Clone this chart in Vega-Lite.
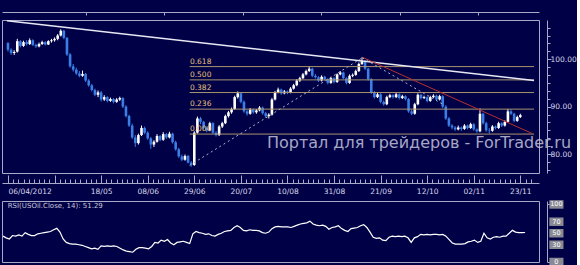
{
"$schema": "https://vega.github.io/schema/vega-lite/v6.json",
"background": "#000046",
"padding": {"left": 0, "top": 11, "right": 0, "bottom": 0},
"spacing": 0,
"config": {
 "view": {"stroke": "#a8a8c8", "strokeWidth": 1},
 "axis": {"domainColor": "#a8a8c8", "tickColor": "#a8a8c8", "labelColor": "#d8d8e8", "labelFont": "DejaVu Sans", "labelFontSize": 7.5, "grid": false, "title": null, "labelOverlap": false}
},
"datasets": {
 "cd": [
{"o":103.4,"h":103.6,"l":101.6,"c":102.0,"r":45},
{"o":102.0,"h":102.3,"l":100.9,"c":101.3,"r":42},
{"o":101.3,"h":101.9,"l":100.9,"c":101.5,"r":40},
{"o":101.6,"h":104.3,"l":101.4,"c":103.8,"r":46},
{"o":103.8,"h":104.0,"l":102.5,"c":102.8,"r":45},
{"o":102.8,"h":103.9,"l":102.6,"c":103.6,"r":47},
{"o":103.6,"h":104.0,"l":102.9,"c":103.2,"r":45},
{"o":103.2,"h":104.4,"l":103.0,"c":104.0,"r":51},
{"o":104.0,"h":104.2,"l":102.8,"c":103.0,"r":48},
{"o":103.0,"h":103.3,"l":102.4,"c":102.7,"r":46},
{"o":102.7,"h":103.5,"l":102.5,"c":103.2,"r":46},
{"o":103.2,"h":103.9,"l":103.0,"c":103.6,"r":49},
{"o":103.6,"h":103.8,"l":102.9,"c":103.1,"r":50},
{"o":103.1,"h":104.0,"l":103.0,"c":103.8,"r":51},
{"o":103.8,"h":104.3,"l":103.5,"c":104.0,"r":52},
{"o":104.0,"h":104.6,"l":103.7,"c":104.3,"r":53},
{"o":104.3,"h":105.3,"l":104.0,"c":105.0,"r":56},
{"o":105.0,"h":106.3,"l":104.8,"c":106.0,"r":58.5},
{"o":106.0,"h":106.2,"l":104.2,"c":104.5,"r":52},
{"o":104.5,"h":104.7,"l":100.7,"c":101.0,"r":40},
{"o":101.0,"h":101.3,"l":98.2,"c":98.5,"r":34},
{"o":98.5,"h":99.0,"l":97.4,"c":97.8,"r":32},
{"o":97.8,"h":98.2,"l":96.7,"c":97.0,"r":31},
{"o":97.0,"h":97.5,"l":96.2,"c":96.5,"r":31},
{"o":96.5,"h":97.6,"l":96.3,"c":96.9,"r":30},
{"o":96.9,"h":97.1,"l":95.2,"c":95.5,"r":29},
{"o":95.5,"h":95.8,"l":94.2,"c":94.5,"r":27},
{"o":94.5,"h":94.8,"l":93.2,"c":93.5,"r":25},
{"o":93.5,"h":93.8,"l":92.2,"c":92.5,"r":23},
{"o":92.5,"h":93.4,"l":92.0,"c":93.0,"r":24},
{"o":93.0,"h":93.3,"l":91.1,"c":91.5,"r":22},
{"o":91.5,"h":92.4,"l":91.2,"c":92.0,"r":28},
{"o":92.0,"h":92.2,"l":90.9,"c":91.2,"r":27},
{"o":91.2,"h":91.9,"l":91.0,"c":91.6,"r":28},
{"o":91.6,"h":91.8,"l":90.7,"c":91.0,"r":27},
{"o":91.0,"h":91.8,"l":90.8,"c":91.5,"r":28},
{"o":91.5,"h":92.1,"l":91.2,"c":91.8,"r":27},
{"o":91.8,"h":92.0,"l":89.7,"c":90.0,"r":24},
{"o":90.0,"h":90.3,"l":87.7,"c":88.0,"r":21},
{"o":88.0,"h":88.3,"l":85.7,"c":86.0,"r":19},
{"o":86.0,"h":86.4,"l":83.2,"c":83.5,"r":18},
{"o":83.5,"h":84.0,"l":81.5,"c":82.3,"r":17},
{"o":82.3,"h":84.3,"l":82.0,"c":84.0,"r":22},
{"o":84.0,"h":86.0,"l":83.8,"c":85.5,"r":25},
{"o":85.5,"h":85.8,"l":84.2,"c":84.5,"r":25},
{"o":84.5,"h":84.8,"l":83.0,"c":83.3,"r":24},
{"o":83.3,"h":83.6,"l":81.1,"c":82.0,"r":23},
{"o":82.0,"h":82.9,"l":81.5,"c":82.6,"r":27},
{"o":82.6,"h":84.2,"l":82.4,"c":83.8,"r":34},
{"o":83.8,"h":84.0,"l":82.7,"c":83.0,"r":33},
{"o":83.0,"h":84.6,"l":82.8,"c":84.2,"r":38},
{"o":84.2,"h":84.4,"l":83.2,"c":83.5,"r":36},
{"o":83.5,"h":84.7,"l":83.3,"c":84.3,"r":39},
{"o":84.3,"h":84.5,"l":82.2,"c":82.5,"r":33},
{"o":82.5,"h":82.8,"l":80.7,"c":81.0,"r":30},
{"o":81.0,"h":81.3,"l":79.2,"c":79.5,"r":34},
{"o":79.5,"h":79.9,"l":78.5,"c":78.8,"r":35},
{"o":78.8,"h":79.9,"l":78.6,"c":79.6,"r":36},
{"o":79.6,"h":79.8,"l":78.0,"c":78.2,"r":34},
{"o":78.2,"h":78.5,"l":77.3,"c":77.7,"r":32},
{"o":77.7,"h":84.8,"l":77.5,"c":84.5,"r":49},
{"o":84.5,"h":87.9,"l":84.3,"c":87.5,"r":53},
{"o":87.5,"h":87.8,"l":86.3,"c":86.8,"r":51},
{"o":86.8,"h":87.0,"l":85.2,"c":85.5,"r":50},
{"o":85.5,"h":85.8,"l":84.6,"c":85.0,"r":48},
{"o":85.0,"h":86.8,"l":84.8,"c":86.5,"r":49},
{"o":86.5,"h":86.7,"l":84.2,"c":84.5,"r":46},
{"o":84.5,"h":84.8,"l":83.7,"c":84.0,"r":45},
{"o":84.0,"h":86.1,"l":83.8,"c":85.8,"r":48},
{"o":85.8,"h":86.8,"l":85.5,"c":86.5,"r":50},
{"o":86.5,"h":88.3,"l":86.3,"c":88.0,"r":53},
{"o":88.0,"h":89.1,"l":87.7,"c":88.8,"r":54},
{"o":88.8,"h":89.8,"l":88.5,"c":89.5,"r":55},
{"o":89.5,"h":92.3,"l":89.3,"c":92.0,"r":60},
{"o":92.0,"h":93.2,"l":91.7,"c":92.8,"r":63},
{"o":92.8,"h":93.0,"l":90.7,"c":91.0,"r":60},
{"o":91.0,"h":91.3,"l":88.7,"c":89.0,"r":55},
{"o":89.0,"h":89.3,"l":88.1,"c":88.5,"r":54},
{"o":88.5,"h":89.7,"l":88.3,"c":89.4,"r":56},
{"o":89.4,"h":89.6,"l":88.5,"c":88.8,"r":55},
{"o":88.8,"h":89.5,"l":88.5,"c":89.2,"r":55},
{"o":89.2,"h":90.1,"l":89.0,"c":89.8,"r":54},
{"o":89.8,"h":90.0,"l":88.3,"c":88.6,"r":51},
{"o":88.6,"h":88.9,"l":87.6,"c":88.0,"r":50},
{"o":88.0,"h":88.6,"l":87.5,"c":88.3,"r":52},
{"o":88.3,"h":91.8,"l":88.1,"c":91.5,"r":58},
{"o":91.5,"h":93.3,"l":91.3,"c":93.0,"r":61},
{"o":93.0,"h":94.0,"l":92.8,"c":93.6,"r":62},
{"o":93.6,"h":93.8,"l":92.5,"c":92.8,"r":61},
{"o":92.8,"h":93.5,"l":92.6,"c":93.2,"r":61},
{"o":93.2,"h":93.4,"l":92.6,"c":93.0,"r":61},
{"o":93.0,"h":94.1,"l":92.8,"c":93.8,"r":60},
{"o":93.8,"h":94.8,"l":93.6,"c":94.5,"r":62},
{"o":94.5,"h":95.8,"l":94.3,"c":95.5,"r":64},
{"o":95.5,"h":96.3,"l":95.2,"c":96.0,"r":66},
{"o":96.0,"h":97.1,"l":95.8,"c":96.8,"r":67},
{"o":96.8,"h":97.8,"l":96.6,"c":97.5,"r":68},
{"o":97.5,"h":98.4,"l":97.3,"c":98.0,"r":71},
{"o":98.0,"h":98.2,"l":96.2,"c":96.5,"r":66},
{"o":96.5,"h":96.9,"l":95.9,"c":96.2,"r":64},
{"o":96.2,"h":96.4,"l":95.2,"c":95.5,"r":63},
{"o":95.5,"h":96.6,"l":95.3,"c":96.3,"r":64},
{"o":96.3,"h":96.5,"l":95.5,"c":95.8,"r":62},
{"o":95.8,"h":96.0,"l":94.7,"c":95.0,"r":57},
{"o":95.0,"h":96.3,"l":94.8,"c":96.0,"r":60},
{"o":96.0,"h":96.2,"l":94.9,"c":95.2,"r":61},
{"o":95.2,"h":97.0,"l":95.0,"c":96.8,"r":63},
{"o":96.8,"h":97.5,"l":96.6,"c":97.2,"r":58},
{"o":97.2,"h":97.4,"l":95.8,"c":96.0,"r":55},
{"o":96.0,"h":96.2,"l":94.7,"c":95.0,"r":53},
{"o":95.0,"h":96.8,"l":94.8,"c":96.5,"r":58},
{"o":96.5,"h":97.0,"l":96.2,"c":96.7,"r":59},
{"o":96.7,"h":97.8,"l":96.5,"c":97.5,"r":60},
{"o":97.5,"h":99.3,"l":97.3,"c":99.0,"r":63},
{"o":99.0,"h":100.4,"l":98.8,"c":99.6,"r":65},
{"o":99.6,"h":99.8,"l":97.7,"c":98.0,"r":60},
{"o":98.0,"h":98.2,"l":95.5,"c":95.8,"r":52},
{"o":95.8,"h":96.0,"l":92.7,"c":93.0,"r":43},
{"o":93.0,"h":93.3,"l":91.7,"c":92.0,"r":41},
{"o":92.0,"h":92.9,"l":91.8,"c":92.6,"r":42},
{"o":92.6,"h":92.8,"l":90.7,"c":91.0,"r":38},
{"o":91.0,"h":91.3,"l":90.2,"c":90.5,"r":37},
{"o":90.5,"h":92.3,"l":90.3,"c":92.0,"r":43},
{"o":92.0,"h":92.7,"l":91.8,"c":92.4,"r":45},
{"o":92.4,"h":92.6,"l":91.7,"c":92.0,"r":44},
{"o":92.0,"h":92.9,"l":91.8,"c":92.6,"r":45},
{"o":92.6,"h":92.8,"l":91.5,"c":91.8,"r":44},
{"o":91.8,"h":92.5,"l":91.6,"c":92.2,"r":45},
{"o":92.2,"h":92.4,"l":91.3,"c":91.6,"r":42},
{"o":91.6,"h":91.8,"l":88.7,"c":89.0,"r":34},
{"o":89.0,"h":89.3,"l":88.2,"c":88.5,"r":42},
{"o":88.5,"h":90.8,"l":88.3,"c":90.5,"r":44},
{"o":90.5,"h":92.8,"l":90.3,"c":92.5,"r":48},
{"o":92.5,"h":92.7,"l":91.5,"c":91.8,"r":47},
{"o":91.8,"h":92.3,"l":91.6,"c":92.0,"r":48},
{"o":92.0,"h":92.2,"l":90.9,"c":91.2,"r":47},
{"o":91.2,"h":92.3,"l":91.0,"c":92.0,"r":48},
{"o":92.0,"h":92.6,"l":91.8,"c":92.3,"r":48},
{"o":92.3,"h":92.5,"l":91.2,"c":91.5,"r":47},
{"o":91.5,"h":92.5,"l":91.3,"c":92.2,"r":48},
{"o":92.2,"h":92.4,"l":89.7,"c":90.0,"r":45},
{"o":90.0,"h":90.3,"l":87.2,"c":87.5,"r":39},
{"o":87.5,"h":87.8,"l":85.7,"c":86.0,"r":33},
{"o":86.0,"h":86.3,"l":85.2,"c":85.6,"r":31},
{"o":85.6,"h":85.9,"l":84.9,"c":85.2,"r":31},
{"o":85.2,"h":86.0,"l":85.0,"c":85.6,"r":31},
{"o":85.6,"h":85.8,"l":84.9,"c":85.3,"r":32},
{"o":85.3,"h":86.3,"l":85.1,"c":86.0,"r":35},
{"o":86.0,"h":86.2,"l":85.2,"c":85.5,"r":36},
{"o":85.5,"h":86.6,"l":85.3,"c":86.3,"r":38},
{"o":86.3,"h":86.5,"l":84.9,"c":85.2,"r":34},
{"o":85.2,"h":85.4,"l":84.5,"c":84.8,"r":36},
{"o":84.8,"h":89.6,"l":84.6,"c":88.5,"r":50},
{"o":88.5,"h":88.7,"l":86.2,"c":86.5,"r":42},
{"o":86.5,"h":86.8,"l":84.7,"c":85.0,"r":40},
{"o":85.0,"h":85.5,"l":84.3,"c":84.9,"r":43},
{"o":84.9,"h":86.1,"l":84.7,"c":85.8,"r":44},
{"o":85.8,"h":86.0,"l":85.2,"c":85.5,"r":43},
{"o":85.5,"h":86.8,"l":85.3,"c":86.5,"r":45},
{"o":86.5,"h":86.7,"l":85.7,"c":86.0,"r":45},
{"o":86.0,"h":87.1,"l":85.8,"c":86.8,"r":50},
{"o":86.8,"h":89.5,"l":86.6,"c":89.0,"r":55},
{"o":89.0,"h":89.4,"l":88.2,"c":88.5,"r":52},
{"o":88.5,"h":88.7,"l":86.7,"c":87.0,"r":51},
{"o":87.0,"h":88.1,"l":86.8,"c":87.8,"r":51},
{"o":87.8,"h":88.5,"l":87.6,"c":88.2,"r":51.3}
 ],
 "fib": [
  {"lv": "0.618", "p": 98.44},
  {"lv": "0.500", "p": 95.64},
  {"lv": "0.382", "p": 92.97},
  {"lv": "0.236", "p": 89.47},
  {"lv": "0.000", "p": 84.21}
 ],
 "tl": [
  {"k": "w", "n": 0.684, "p": 108.1},
  {"k": "w", "n": 170.4, "p": 95.5},
  {"k": "r", "n": 115.2, "p": 100.4},
  {"k": "r", "n": 169.9, "p": 84.3},
  {"k": "d1", "n": 59.5, "p": 77.6},
  {"k": "d1", "n": 115.1, "p": 100.3},
  {"k": "d2", "n": 115.1, "p": 100.3},
  {"k": "d2", "n": 141.3, "p": 90.4}
 ],
 "rl": [{"v": 0}, {"v": 30}, {"v": 50}, {"v": 70}, {"v": 100}]
},
"vconcat": [
 {
  "width": 537,
  "height": 153,
  "resolve": {"axis": {"x": "independent", "y": "independent"}},
  "layer": [
   {
    "data": {"name": "cd"},
    "transform": [{"window": [{"op": "row_number", "as": "n"}]}],
    "mark": {"type": "rule", "strokeWidth": 1},
    "encoding": {
     "x": {"field": "n", "type": "quantitative", "scale": {"domain": [0.684, 170.4], "nice": false, "zero": false},
       "axis": {"orient": "bottom", "offset": 10, "domain": true,
        "values": [1,2.667,4.333,6,7.667,9.333,11,12.667,14.333,16,17.667,19.333,21,22.667,24.333,26,27.667,29.333,31,32.667,34.333,36,37.667,39.333,41,42.667,44.333,46,47.667,49.333,51,52.667,54.333,56,57.667,59.333,61,62.667,64.333,66,67.667,69.333,71,72.667,74.333,76,77.667,79.333,81,82.667,84.333,86,87.667,89.333,91,92.667,94.333,96,97.667,99.333,101,102.667,104.333,106,107.667,109.333,111,112.667,114.333,116,117.667,119.333,121,122.667,124.333,126,127.667,129.333,131,132.667,134.333,136,137.667,139.333,141,142.667,144.333,146,147.667,149.333,151,152.667,154.333,156,157.667,159.333,161,162.667,164.333,166,167.667,169.333],
        "labelExpr": "datum.value % 15 == 1 ? ['06/04/2012','','18/05','08/06','29/06','20/07','10/08','31/08','21/09','12/10','02/11','23/11'][(datum.value-1)/15] : ''",
        "labelAlign": {"condition": {"test": "datum.value < 2", "value": "left"}, "value": "center"},
        "tickSize": {"condition": {"test": "datum.value % 15 == 1", "value": -8}, "value": -4},
        "labelPadding": 12}},
     "y": {"field": "l", "type": "quantitative", "scale": {"domain": [76.0, 108.27], "nice": false, "zero": false},
       "axis": {"orient": "right", "offset": 8,
        "values": [76.667,78.333,80,81.667,83.333,85,86.667,88.333,90,91.667,93.333,95,96.667,98.333,100,101.667,103.333,105,106.667],
        "labelExpr": "datum.value % 10 == 0 ? format(datum.value, '.2f') : ''",
        "tickSize": {"condition": {"test": "datum.value % 10 == 0", "value": 4}, "value": 3},
        "labelPadding": -1}},
     "y2": {"field": "h"},
     "color": {"condition": {"test": "datum.c >= datum.o", "value": "#ffffff"}, "value": "#3a7ee6"}
    }
   },
   {
    "data": {"name": "cd"},
    "transform": [{"window": [{"op": "row_number", "as": "n"}]}],
    "mark": {"type": "bar", "width": 2.6},
    "encoding": {
     "x": {"field": "n", "type": "quantitative",
       "axis": {"orient": "top", "offset": 8, "labels": false, "domain": true,
        "values": [25.97, 51.25, 76.53, 101.81, 127.09, 152.37], "tickSize": -3}},
     "y": {"field": "o", "type": "quantitative", "axis": null},
     "y2": {"field": "c"},
     "color": {"condition": {"test": "datum.c >= datum.o", "value": "#ffffff"}, "value": "#3a7ee6"}
    }
   },
   {
    "data": {"name": "fib"},
    "mark": {"type": "rule", "color": "#a89470", "strokeWidth": 1},
    "encoding": {
     "x": {"datum": 59.5, "type": "quantitative", "axis": null},
     "x2": {"datum": 170.4},
     "y": {"field": "p", "type": "quantitative", "axis": null}
    }
   },
   {
    "data": {"name": "fib"},
    "mark": {"type": "text", "align": "left", "baseline": "bottom", "dy": -1, "font": "DejaVu Sans", "fontSize": 7.5, "color": "#e8c07a"},
    "encoding": {
     "x": {"datum": 59.6, "type": "quantitative", "axis": null},
     "y": {"field": "p", "type": "quantitative", "axis": null},
     "text": {"field": "lv"}
    }
   },
   {
    "data": {"name": "tl"},
    "transform": [{"filter": "datum.k == 'w'"}],
    "mark": {"type": "line", "color": "#e8e8f4", "strokeWidth": 1.5},
    "encoding": {
     "x": {"field": "n", "type": "quantitative", "axis": null},
     "y": {"field": "p", "type": "quantitative", "axis": null}
    }
   },
   {
    "data": {"name": "tl"},
    "transform": [{"filter": "datum.k == 'r'"}],
    "mark": {"type": "line", "color": "#b83030", "strokeWidth": 1},
    "encoding": {
     "x": {"field": "n", "type": "quantitative", "axis": null},
     "y": {"field": "p", "type": "quantitative", "axis": null}
    }
   },
   {
    "data": {"name": "tl"},
    "transform": [{"filter": "datum.k == 'd1' || datum.k == 'd2'"}],
    "mark": {"type": "line", "color": "#b0b0c8", "strokeWidth": 1, "strokeDash": [2, 3]},
    "encoding": {
     "x": {"field": "n", "type": "quantitative", "axis": null},
     "y": {"field": "p", "type": "quantitative", "axis": null},
     "detail": {"field": "k"}
    }
   },
   {
    "data": {"values": [{"t": "Портал для трейдеров - ForTrader.ru"}]},
    "mark": {"type": "text", "align": "left", "baseline": "alphabetic", "font": "DejaVu Sans", "fontSize": 16, "color": "#c4c4dc", "opacity": 0.85},
    "encoding": {
     "x": {"datum": 84.4, "type": "quantitative", "axis": null},
     "y": {"datum": 81.35, "type": "quantitative", "axis": null},
     "text": {"field": "t"}
    }
   }
  ]
 },
 {
  "width": 537,
  "height": 61,
  "layer": [
   {
    "mark": {"type": "rule", "color": "#e0e0f0", "strokeDash": [2, 2], "strokeWidth": 1},
    "encoding": {"y": {"datum": 70, "type": "quantitative", "scale": {"domain": [0, 106], "nice": false}, "axis": {"orient": "right", "offset": 8, "values": [0,10,20,30,40,50,60,70,80,90,100], "labels": false, "tickSize": {"condition": {"test": "indexof([0,30,50,70,100], datum.value) >= 0", "value": 4}, "value": 3}}}}
   },
   {
    "mark": {"type": "rule", "color": "#e0e0f0", "strokeDash": [2, 2], "strokeWidth": 1},
    "encoding": {"y": {"datum": 30, "type": "quantitative"}}
   },
   {
    "mark": {"type": "rule", "color": "#9090b0", "strokeWidth": 1},
    "encoding": {"y": {"datum": 50, "type": "quantitative"}}
   },
   {
    "data": {"name": "cd"},
    "transform": [{"window": [{"op": "row_number", "as": "n"}]}],
    "mark": {"type": "line", "color": "#ffffff", "strokeWidth": 1.2},
    "encoding": {
     "x": {"field": "n", "type": "quantitative", "scale": {"domain": [0.684, 170.4], "nice": false, "zero": false}, "axis": null},
     "y": {"field": "r", "type": "quantitative"}
    }
   },
   {
    "data": {"name": "rl"},
    "mark": {"type": "point", "shape": "M-1,-0.6L1,-0.6L1,0.6L-1,0.6Z", "filled": true, "color": "#8a8a94", "opacity": 1, "size": 200},
    "encoding": {
     "x": {"datum": 175.9, "type": "quantitative"},
     "y": {"field": "v", "type": "quantitative"}
    }
   },
   {
    "data": {"name": "rl"},
    "mark": {"type": "text", "align": "center", "baseline": "middle", "font": "DejaVu Sans", "fontSize": 6.5, "color": "#ffffff"},
    "encoding": {
     "x": {"datum": 175.9, "type": "quantitative"},
     "y": {"field": "v", "type": "quantitative"},
     "text": {"field": "v", "type": "quantitative"}
    }
   },
   {
    "data": {"values": [{"t": "RSI(USOil.Close, 14): 51.29"}]},
    "mark": {"type": "text", "align": "left", "baseline": "middle", "font": "DejaVu Sans", "fontSize": 7, "color": "#c8c8dc"},
    "encoding": {
     "x": {"datum": 2.5, "type": "quantitative"},
     "y": {"datum": 98, "type": "quantitative"},
     "text": {"field": "t"}
    }
   }
  ]
 }
]
}
